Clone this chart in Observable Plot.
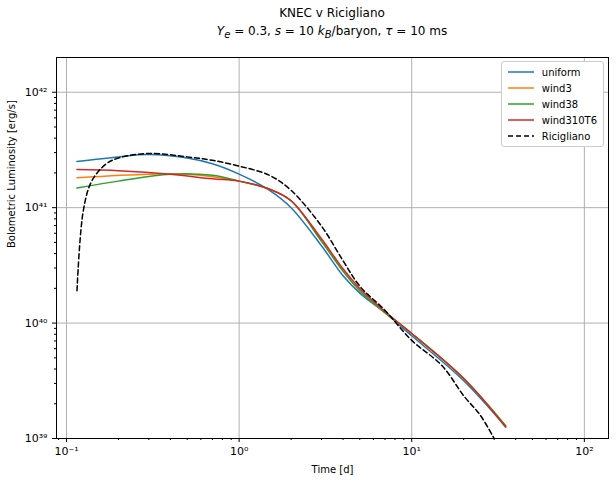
<!DOCTYPE html>
<html><head><meta charset="utf-8">
<script src="https://cdn.jsdelivr.net/npm/d3@7"></script>
<script src="https://cdn.jsdelivr.net/npm/@observablehq/plot@0.6"></script>
<style>
body{margin:0;font-family:"DejaVu Sans",sans-serif;background:#fff}
#wrap{position:relative;width:616px}
.t{text-align:center;font-size:12px;color:#000;padding-left:56px;width:552px}
#legend{position:absolute;right:12px;top:61px;background:#fff;border:1px solid #ccc;border-radius:3px;padding:2px 6px;font-size:10px}
#legend div{display:flex;align-items:center;height:16px}
#legend svg{margin-right:8px}
</style></head><body>
<div id="wrap">
<div class="t" style="padding-top:6px">KNEC v Ricigliano</div>
<div class="t" style="padding-top:4px;height:20px"><i>Y<sub>e</sub></i> = 0.3, <i>s</i> = 10 <i>k<sub>B</sub></i>/baryon, <i>τ</i> = 10 ms</div>
<div id="chart"></div>
<div id="legend"></div>
</div>
<script>
const uniformT = [0.115,0.2,0.3,0.5,0.7,1,1.5,2,3,4,5,7,10,20,35];
const uniformL = [41.40,41.44,41.46,41.43,41.38,41.29,41.15,41.0,40.67,40.41,40.26,40.09,39.89,39.50,39.10];
const wind3T = [0.115,0.3,0.5,1,1.5,2,3,4,5,7,10,20,35];
const wind3L = [41.26,41.29,41.29,41.23,41.16,41.06,40.71,40.45,40.28,40.09,39.91,39.52,39.11];
const wind38T = [0.115,0.2,0.4,0.7,1,1.5,2,3,4,5,7,10,20,35];
const wind38L = [41.17,41.23,41.29,41.28,41.23,41.16,41.06,40.71,40.45,40.28,40.09,39.91,39.52,39.11];
const wind310T = [0.115,0.2,0.4,0.7,1,1.5,2,3,4,5,7,10,20,35];
const wind310L = [41.33,41.32,41.29,41.25,41.23,41.16,41.06,40.73,40.47,40.30,40.10,39.91,39.52,39.10];
const ricT = [0.115,0.125,0.14,0.17,0.2,0.3,0.5,0.7,1,1.5,2,3,4,5,7,10,15,20,25,30];
const ricL = [40.28,40.97,41.23,41.38,41.43,41.47,41.44,41.41,41.36,41.28,41.15,40.84,40.54,40.32,40.11,39.85,39.63,39.37,39.20,39.0];

const series = [
  {name:"uniform", color:"#1f77b4", t:uniformT, l:uniformL},
  {name:"wind3", color:"#ff7f0e", t:wind3T, l:wind3L},
  {name:"wind38", color:"#2ca02c", t:wind38T, l:wind38L},
  {name:"wind310T6", color:"#d62728", t:wind310T, l:wind310L},
  {name:"Ricigliano", color:"#000", t:ricT, l:ricL, dash:"5,3"}
];
const rows = s => s.t.map((t,i)=>({t, L:10**s.l[i]}));
const sup = {"-":"⁻","0":"⁰","1":"¹","2":"²","3":"³","4":"⁴","9":"⁹"};
const pow = v => "10" + String(Math.round(Math.log10(v))).split("").map(c=>sup[c]).join("");
const minorX = [];
for (let e=-2;e<=2;e++) for (let k=2;k<=9;k++){const v=k*10**e; if(v>0.0875&&v<138) minorX.push(v);}
const minorY = [];
for (let e=39;e<=42;e++) for (let k=2;k<=9;k++){const v=k*10**e; if(v<2e42) minorY.push(v);}

const chart = Plot.plot({
  width:616, height:436,
  marginLeft:56, marginRight:8, marginTop:13, marginBottom:42,
  style:{fontFamily:"DejaVu Sans", fontSize:10, color:"#000"},
  x:{type:"log", domain:[0.0875,138], label:null},
  y:{type:"log", domain:[1e39,2e42], label:null},
  marks:[
    Plot.gridX([0.1,1,10,100],{stroke:"#b0b0b0", strokeOpacity:1}),
    Plot.gridY([1e39,1e40,1e41,1e42],{stroke:"#b0b0b0", strokeOpacity:1}),
    Plot.axisX([0.1,1,10,100],{tickFormat:pow, tickSize:4, fontSize:11}),
    Plot.axisX(minorX,{tickFormat:()=>"", tickSize:2}),
    Plot.axisY([1e39,1e40,1e41,1e42],{tickFormat:pow, tickSize:4, fontSize:11}),
    Plot.axisY(minorY,{tickFormat:()=>"", tickSize:2}),
    ...series.map(s=>Plot.line(rows(s),{x:"t", y:"L", stroke:s.color, strokeWidth:1.5, strokeDasharray:s.dash, curve:"catmull-rom", clip:true})),
    Plot.frame({stroke:"#000"}),
    Plot.text(["Time [d]"],{frameAnchor:"bottom", dy:34, fontSize:10}),
    Plot.text(["Bolometric Luminosity [erg/s]"],{frameAnchor:"left", dx:-45, rotate:-90, fontSize:10})
  ]
});
document.getElementById("chart").append(chart);
const lg = document.getElementById("legend");
series.forEach(s=>{
  const d=document.createElement("div");
  d.innerHTML=`<svg width="26" height="4"><line x1="0" y1="2" x2="26" y2="2" stroke="${s.color}" stroke-width="1.5" ${s.dash?`stroke-dasharray="${s.dash}"`:""}/></svg>${s.name}`;
  lg.append(d);
});
</script>
</body></html>
